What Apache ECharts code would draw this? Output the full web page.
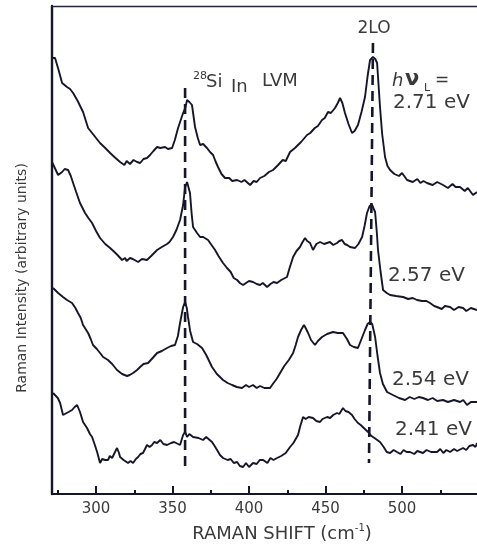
<!DOCTYPE html>
<html>
<head>
<meta charset="utf-8">
<script src="https://cdn.jsdelivr.net/npm/echarts@6/dist/echarts.min.js"></script>
<style>
html,body{margin:0;padding:0;background:#fff;}
#c{width:477px;height:546px;}
</style>
</head>
<body>
<div id="c"></div>
<script>
// Raman shift (cm^-1) vs intensity (arbitrary units, curves offset vertically)
const majorTicks = [300, 350, 400, 450, 500];
const minorTicks = [275, 325, 375, 425, 475, 525];

const curve271 = [
[271.2,436],[273.2,436],[275.5,424],[277.8,411],[281.0,407],[283,405],[285.0,401],[288,393],[291.5,382],[294.8,366],[297.4,361],[300,356],[302.6,351],[306,346],[309.2,341],[312,337],[315.7,332],[318.5,329],[320,333],[322.2,330],[324.5,334],[326.8,332],[328.8,331],[331,335],[333.3,336],[335.3,339],[337.5,343],[339.9,347],[342,346],[345.1,347],[347,345],[349.7,346],[351.5,354],[353.6,366],[356.9,381],[358.3,386],[359.5,394],[361,392],[362.7,389],[364.7,367],[366.5,356],[368.0,349],[370,350],[372.5,346],[374.5,342],[376.5,339],[378,333],[379.7,327],[382,320],[384.3,316],[387,316],[389,313],[392.2,314],[395,312],[397,314],[400.7,309],[403,313],[405,312],[407.2,316],[410,318],[413,322],[415.7,324],[419,329],[422,334],[424,333],[426.8,342],[430,346],[434,352],[437.9,359],[440,361],[443,366],[445,368],[447.7,374],[449.5,376],[451.6,382],[453.5,381],[456.2,386],[458,391],[459.5,396],[461,391],[462.7,381],[465,370],[467.3,361],[469,363],[471.2,369],[473.5,382],[475.8,397],[477.5,418],[479.1,434],[481.0,437],[482.5,435],[483.7,431],[485.6,387],[487,360],[488.9,337],[490.5,328],[492.2,324],[495,320],[498,318],[500,321],[503.3,314],[507,312],[510,315],[512,311],[514,313],[516.3,311],[520,309],[523,312],[526.8,309],[530,306],[533,310],[535,307],[537.9,307],[541,303],[543,306],[546.4,299],[549.0,302]
];

const curve257 = [
[271.2,332],[272.5,332],[275.2,319],[277.8,322],[279.5,325],[281.7,324],[283.5,318],[285.0,311],[287,302],[289.5,291],[292.8,281],[295,276],[297.4,271],[300,263],[302.6,256],[306,250],[309.2,246],[312,242],[314,239],[317.0,234],[319,236],[320,233],[322.2,236],[324,235],[327.5,232],[330,235],[333.3,234],[336,238],[339.9,244],[343,247],[346.4,250],[348,252],[350.3,257],[352.5,264],[354.9,274],[356.9,289],[358.2,307],[359.5,312],[361.4,301],[362.5,280],[363.4,267],[366.0,261],[368.0,257],[370,257],[373.2,254],[375.5,249],[377.8,244],[380,238],[383.0,231],[385.6,226],[388,222],[390,216],[392.2,214],[394,211],[396.1,209],[398,211],[400,213],[402.6,212],[405,210],[407.2,209],[409,211],[411.8,207],[414,210],[416,212],[418.3,211],[421,214],[424.8,217],[426.5,226],[428.8,237],[431,243],[433.3,247],[435,252],[436.6,256],[438,253],[439.9,251],[441.8,244],[444,250],[446.4,252],[449,250],[452.9,252],[455,249],[457.5,251],[459,253],[460.8,254],[462.5,250],[464.1,249],[466,247],[469.3,246],[471.5,250],[473.9,257],[475.5,268],[477.1,281],[478.8,288],[480.4,289],[482.4,282],[483.5,262],[484.3,244],[486,222],[487.6,204],[490,201],[492.2,199],[496,198],[500.7,197],[504,195],[507,196],[509.8,194],[513,193],[516,193],[518.3,191],[521,188],[522.9,187],[526,185],[528,188],[531.4,187],[534,184],[537,187],[539.9,186],[542,183],[545,186],[549.0,184]
];

const curve254 = [
[271.9,206],[275.2,201],[278.4,197],[281.0,194],[284.3,191],[286.5,186],[288.2,181],[290,176],[291.5,169],[294.8,161],[296.5,155],[298.0,149],[300.5,145],[302.6,141],[304.6,137],[307.8,134],[310.5,130],[313.7,124],[317,120],[320.3,118],[322,119],[324.2,121],[326.8,124],[328.8,127],[331,130],[334.0,131],[337,136],[339.9,141],[343,143],[346.4,146],[349,148],[351.6,149],[353.5,158],[354.9,171],[356.9,187],[358.2,192],[359.3,186],[360.1,177],[361.5,163],[363.4,152],[366,150],[369.3,146],[372,139],[375.8,127],[379,120],[383.0,114],[386,111],[388.9,109],[392,107],[395.4,106],[398,109],[400,107],[402.6,109],[405,106],[407.2,108],[410,106],[413.7,106],[416,111],[418,115],[420.3,121],[423,128],[426,134],[428.8,141],[430.5,149],[432.0,157],[434,164],[435.9,169],[437,166],[438.6,161],[440.5,154],[443.1,149],[445,153],[447.7,157],[451,160],[454.9,162],[458,161],[461.4,161],[464,155],[466.0,149],[468.5,147],[471.2,146],[473.5,155],[475.8,164],[477.5,170],[479.1,172],[480.5,170],[482.4,157],[484,138],[485.6,121],[487.5,110],[490.2,102],[494,99],[498,96],[502.0,94],[505,97],[508,95],[511,97],[513.7,96],[517,94],[520,96],[523,93],[526.8,94],[530,92],[534,94],[537.9,92],[540,94],[542.5,89],[545,92],[549.0,92]
];

const curve241 = [
[271.9,101],[273.2,101],[275,96],[276.5,91],[278.4,79],[279.7,81],[282,82],[284.3,84],[286,87],[287.6,89],[289.5,82],[291.5,72],[294.1,66],[296,60],[297.4,57],[299,50],[300.7,42],[302.6,31],[304,35],[305.9,34],[307.8,34],[309,38],[310.5,36],[312.4,42],[313.7,46],[315,41],[315.7,37],[318,34],[320.9,31],[322.5,33],[324.2,31],[326,35],[327.5,37],[329,40],[330.7,41],[333.3,49],[335,47],[336.6,49],[338,52],[339.9,51],[342,54],[344,50],[346.4,49],[349,51],[351,52],[354.9,49],[356.9,59],[358.2,62],[359.5,57],[361,60],[363.4,57],[364.7,59],[367,56],[369.9,54],[372,57],[375.8,52],[377.5,48],[379.1,44],[381,39],[383.0,36],[386,34],[388,35],[390,31],[392.2,32],[394,28],[396.1,27],[398,31],[400,27],[402.6,31],[405,30],[407,34],[409.2,34],[412,31],[414,36],[416,34],[418.3,36],[421,38],[424,41],[426.8,47],[429,51],[432.0,59],[433.5,68],[435.3,77],[437,75],[439,77],[441.8,76],[444,73],[446.4,72],[448,75],[451.0,77],[453,76],[455,79],[457.5,81],[459,80],[461.4,86],[463,83],[465,82],[467.3,79],[469,75],[471.2,71],[473,69],[475,66],[477.8,62],[480,58],[482,56],[485.6,52],[488,47],[490,42],[492.2,41],[494.5,44],[496.7,42],[499,40],[501,44],[503,42],[505.2,42],[508,40],[510,43],[513.7,41],[516,44],[519,42],[522.9,42],[525,45],[527,41],[529,44],[531.4,42],[534,45],[536,43],[539.9,46],[542,44],[544,48],[546.4,49],[548,47],[549.0,51]
];

// vertical guide lines: [shift, intensity] endpoints
const lvmGuide = [[358.2,406],[358.2,22]];
const loGuide = [[481.0,451],[478.4,31]];

const FONT = 'DejaVu Sans';
const TXT = '#3a3a3a';
const LINE = '#16162a';

const chart = echarts.init(document.getElementById('c'), null, {renderer:'canvas'});

function curve(data){
  return {type:'line', data:data, symbol:'none', smooth:false, silent:true,
    lineStyle:{color:LINE, width:1.9}, z:3};
}
function guide(data){
  return {type:'line', data:data, symbol:'none', silent:true,
    lineStyle:{color:LINE, width:2.6, type:[10,6]}, z:4};
}
function label(x, y, text, font, align){
  return {type:'text', x:x, y:y, z:10,
    style:{text:text, font:font, fill:TXT, align:align || 'left', verticalAlign:'middle'}};
}

const option = {
  animation:false,
  backgroundColor:'#fff',
  grid:{left:52, right:0, top:6, bottom:52},
  xAxis:[
    {type:'value', position:'bottom', min:271.2, max:549,
     axisLine:{show:true, lineStyle:{color:LINE, width:2.2}},
     axisTick:{show:true, inside:true, length:8, lineStyle:{color:LINE, width:2}, customValues:majorTicks},
     axisLabel:{show:true, customValues:majorTicks, margin:8, fontSize:15, color:TXT, fontFamily:FONT},
     splitLine:{show:false}},
    {type:'value', position:'bottom', min:271.2, max:549,
     axisLine:{show:false},
     axisTick:{show:true, inside:true, length:4, lineStyle:{color:LINE, width:2}, customValues:minorTicks},
     axisLabel:{show:false}, splitLine:{show:false}},
    {type:'value', position:'top', min:271.2, max:549,
     axisLine:{show:true, lineStyle:{color:'#22223a', width:1.4}},
     axisTick:{show:false}, axisLabel:{show:false}, splitLine:{show:false}}
  ],
  yAxis:{type:'value', min:0, max:488,
     axisLine:{show:true, lineStyle:{color:LINE, width:2.4}},
     axisTick:{show:false}, axisLabel:{show:false}, splitLine:{show:false}},
  series:[
    curve(curve271), curve(curve257), curve(curve254), curve(curve241),
    guide(lvmGuide), guide(loGuide)
  ],
  graphic:[
    {type:'text', x:22, y:278, rotation:Math.PI/2,
     style:{text:'Raman Intensity (arbitrary units)', font:'14px "DejaVu Sans"', fill:TXT, align:'center', verticalAlign:'middle'}},
    {type:'text', x:282, y:533,
     style:{text:'{a|RAMAN SHIFT (cm}{s|-1}{a|)}', align:'center', verticalAlign:'middle', fill:TXT,
       rich:{a:{fontSize:18, fontFamily:FONT, fill:TXT, color:TXT, lineHeight:20, verticalAlign:'bottom'},
             s:{fontSize:10, fontFamily:FONT, fill:TXT, color:TXT, lineHeight:10, verticalAlign:'top'}}}},
    label(374, 29, '2LO', '17px "DejaVu Sans"', 'center'),
    label(193, 76, '28', '11px "DejaVu Sans"'),
    label(206, 82, 'Si', '18px "DejaVu Sans"'),
    label(231, 87, 'In', '18px "DejaVu Sans"'),
    label(262, 81, 'LVM', '18px "DejaVu Sans"'),
    label(392, 81, 'h', 'italic 18px "DejaVu Sans"'),
    label(405, 80, 'ν', 'bold 21px "DejaVu Sans"'),
    label(424, 88, 'L', '11px "DejaVu Sans"'),
    label(435, 81, '=', '17px "DejaVu Sans"'),
    label(393, 103, '2.71 eV', '20px "DejaVu Sans"'),
    label(388, 276, '2.57 eV', '20px "DejaVu Sans"'),
    label(392, 380, '2.54 eV', '20px "DejaVu Sans"'),
    label(395, 430, '2.41 eV', '20px "DejaVu Sans"')
  ]
};
chart.setOption(option);
</script>
</body>
</html>
